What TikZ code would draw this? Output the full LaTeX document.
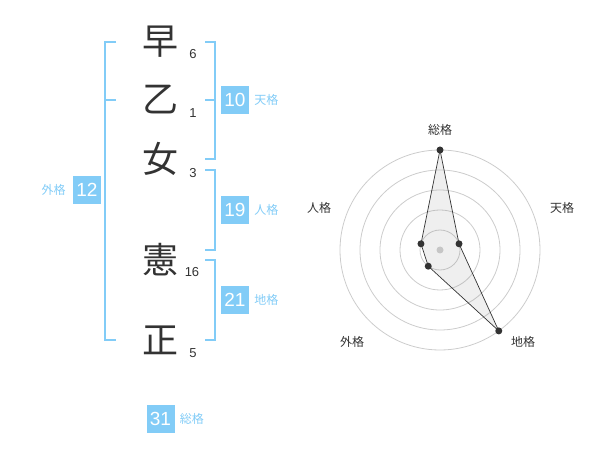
\documentclass[tikz,border=0pt]{standalone}
\usepackage{fontspec}
\setmainfont{Liberation Sans}
\newfontfamily\jpfont{Noto Sans CJK JP}
\usepackage{xcolor}
\usetikzlibrary{positioning, calc}
\definecolor{skyblue}{HTML}{82CCF7}
\definecolor{inkgray}{HTML}{333333}
\definecolor{ringgray}{HTML}{CCCCCC}

\begin{document}
\begin{tikzpicture}[
    x=1pt, y=-1pt,
    kanji/.style={font=\jpfont\fontsize{36}{36}\selectfont, text=inkgray, inner sep=0pt},
    strokes/.style={font=\fontsize{13}{13}\selectfont, text=inkgray, inner sep=0pt},
    score/.style={rectangle, fill=skyblue, text=white, minimum width=28pt, minimum height=28pt, inner sep=0pt, font=\fontsize{19}{19}\selectfont},
    kind/.style={font=\jpfont\fontsize{12}{12}\selectfont, text=skyblue, inner sep=0pt},
    brace/.style={draw=skyblue, line width=2pt},
    ring/.style={draw=ringgray, line width=0.8pt},
    axis/.style={font=\jpfont\fontsize{12}{12}\selectfont, text=inkgray, inner sep=0pt},
    dot/.style={circle, fill=inkgray, inner sep=0pt, minimum size=7pt}
]
\useasboundingbox (0,0) rectangle (600,470);

\node[kanji] (c1) at (160,42) {早};
\node[kanji] (c2) at (160,100) {乙};
\node[kanji] (c3) at (160,159) {女};
\node[kanji] (c4) at (160,260) {憲};
\node[kanji] (c5) at (160,340) {正};

\node[strokes] (s1) at ([shift={(33,12)}]c1.center) {6};
\node[strokes] (s2) at ([shift={(33,13)}]c2.center) {1};
\node[strokes] (s3) at ([shift={(33,14)}]c3.center) {3};
\node[strokes] (s4) at ([shift={(32,12)}]c4.center) {16};
\node[strokes] (s5) at ([shift={(33,13)}]c5.center) {5};

\coordinate (lx) at (105,0);
\coordinate (lt) at (116,0);
\coordinate (rx) at (215,0);
\coordinate (rt) at (205,0);

% brackets
\draw[brace] (c1 -| lt) -- (c1 -| lx) -- (c5 -| lx) -- (c5 -| lt);
\draw[brace] (c2 -| lx) -- (c2 -| lt);
\draw[brace] (c1 -| rt) -- (c1 -| rx) -- (c3 -| rx) -- (c3 -| rt);
\draw[brace] (c2 -| rx) -- (c2 -| rt);
\draw[brace] ($(c3 -| rt)+(0,11)$) -- ($(c3 -| rx)+(0,11)$) -- ($(c4 -| rx)+(0,-10)$) -- ($(c4 -| rt)+(0,-10)$);
\draw[brace] (c4 -| rt) -- (c4 -| rx) -- (c5 -| rx) -- (c5 -| rt);

\node[score] (tenkaku) at (235,100) {10};
\node[kind, right=5pt of tenkaku] (tenlbl) {天格};
\node[score] (jinkaku) at (235,210) {19};
\node[kind, right=5pt of jinkaku] (jinlbl) {人格};
\node[score] (chikaku) at (235,300) {21};
\node[kind, right=5pt of chikaku] (chilbl) {地格};
\node[score] (gaikaku) at (87,190) {12};
\node[kind, left=7pt of gaikaku] (gailbl) {外格};
\node[score] (sokaku) at (160.5,419) {31};
\node[kind, right=5pt of sokaku] (solbl) {総格};

% radar
\begin{scope}[shift={(440,250)}, y=1pt]
\foreach \r in {20,40,...,100}
    \draw[ring] (0,0) circle[radius=\r pt];
\coordinate (so) at (90:100);
\coordinate (ten) at (18:20);
\coordinate (chi) at (-54:100);
\coordinate (gai) at (-126:20);
\coordinate (jin) at (162:20);
\fill[gray, fill opacity=0.13] (so) -- (ten) -- (chi) -- (gai) -- (jin) -- cycle;
\draw[inkgray, line width=0.7pt] (so) -- (ten) -- (chi) -- (gai) -- (jin) -- cycle;
\node[circle, fill=gray!45, inner sep=0pt, minimum size=7pt] (ctr) at (0,0) {};
\node[dot] (pso) at (so) {};
\node[dot] (pten) at (ten) {};
\node[dot] (pchi) at (chi) {};
\node[dot] (pgai) at (gai) {};
\node[dot] (pjin) at (jin) {};
\node[axis] (aso) at (0,120) {総格};
\node[axis] (aten) at (122,42) {天格};
\node[axis] (achi) at (83,-92) {地格};
\node[axis] (agai) at (-88,-92) {外格};
\node[axis] (ajin) at (-121,42) {人格};
\end{scope}

\end{tikzpicture}
\end{document}
